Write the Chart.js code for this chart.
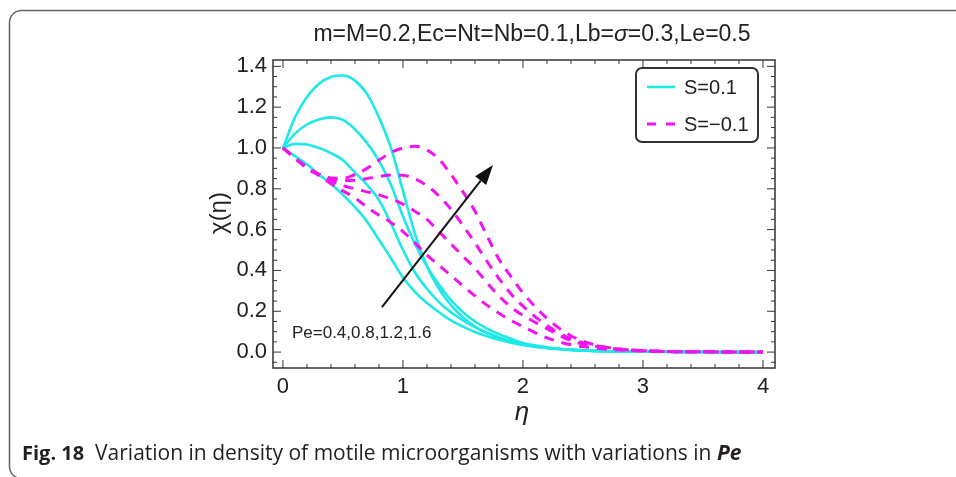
<!DOCTYPE html>
<html>
<head>
<meta charset="utf-8">
<script src="https://cdn.jsdelivr.net/npm/chart.js@4/dist/chart.umd.min.js"></script>
<style>
  html, body { margin: 0; padding: 0; background: #fff; }
  canvas { display: block; }
</style>
</head>
<body>
<canvas id="densityChart" width="956" height="477"></canvas>
<script>
// eta grid shared by every curve
const etaGrid = [0, 0.1, 0.2, 0.3, 0.4, 0.5, 0.6, 0.7, 0.8, 0.9, 1.0, 1.1, 1.2, 1.3, 1.4, 1.5, 1.6, 1.7, 1.8, 1.9, 2.0, 2.2, 2.4, 2.6, 2.8, 3.0, 3.3, 3.6, 4.0];

// S = 0.1 (solid), Pe = 0.4, 0.8, 1.2, 1.6
const posPe04 = [1.0, 0.96, 0.92, 0.87, 0.825, 0.77, 0.71, 0.64, 0.55, 0.46, 0.365, 0.295, 0.24, 0.195, 0.155, 0.125, 0.098, 0.077, 0.06, 0.046, 0.035, 0.02, 0.011, 0.006, 0.003, 0.002, 0.001, 0, 0];
const posPe08 = [1.0, 1.02, 1.017, 1.0, 0.975, 0.94, 0.88, 0.82, 0.745, 0.63, 0.5, 0.39, 0.31, 0.245, 0.195, 0.155, 0.122, 0.095, 0.073, 0.053, 0.038, 0.02, 0.011, 0.006, 0.003, 0.002, 0.001, 0, 0];
const posPe12 = [1.0, 1.07, 1.115, 1.14, 1.15, 1.138, 1.092, 1.025, 0.937, 0.82, 0.665, 0.53, 0.42, 0.33, 0.255, 0.195, 0.15, 0.115, 0.088, 0.065, 0.045, 0.024, 0.012, 0.006, 0.003, 0.002, 0.001, 0, 0];
const posPe16 = [1.0, 1.15, 1.25, 1.315, 1.348, 1.355, 1.33, 1.265, 1.15, 1.0, 0.79, 0.58, 0.42, 0.31, 0.23, 0.17, 0.125, 0.092, 0.068, 0.05, 0.036, 0.02, 0.01, 0.005, 0.003, 0.002, 0.001, 0, 0];

// S = -0.1 (dashed), Pe = 0.4, 0.8, 1.2, 1.6
const negPe04 = [1.0, 0.95, 0.9, 0.865, 0.825, 0.79, 0.755, 0.71, 0.67, 0.635, 0.59, 0.535, 0.475, 0.425, 0.375, 0.325, 0.275, 0.23, 0.19, 0.155, 0.125, 0.07, 0.036, 0.02, 0.01, 0.005, 0.002, 0.001, 0];
const negPe08 = [1.0, 0.95, 0.905, 0.87, 0.84, 0.815, 0.8, 0.785, 0.77, 0.75, 0.725, 0.69, 0.65, 0.59, 0.53, 0.47, 0.41, 0.34, 0.275, 0.22, 0.18, 0.115, 0.055, 0.028, 0.013, 0.006, 0.002, 0.001, 0];
const negPe12 = [1.0, 0.95, 0.905, 0.87, 0.848, 0.84, 0.842, 0.85, 0.86, 0.867, 0.866, 0.848, 0.815, 0.765, 0.7, 0.62, 0.535, 0.445, 0.36, 0.285, 0.225, 0.13, 0.065, 0.033, 0.015, 0.007, 0.002, 0.001, 0];
const negPe16 = [1.0, 0.95, 0.905, 0.872, 0.853, 0.852, 0.87, 0.9, 0.94, 0.978, 1.0, 1.008, 0.99, 0.945, 0.87, 0.785, 0.69, 0.57, 0.455, 0.37, 0.29, 0.165, 0.08, 0.035, 0.015, 0.007, 0.002, 0.001, 0];

const xTicks = [0, 1, 2, 3, 4];
const yTicks = [0, 0.2, 0.4, 0.6, 0.8, 1.0, 1.2, 1.4];

const legendLabels = ["S=0.1", "S=\u22120.1"];
const peLabel = "Pe=0.4,0.8,1.2,1.6";

const CYAN = "rgb(30,232,232)";
const MAGENTA = "rgb(240,20,240)";

function toPoints(arr) {
  return etaGrid.map((x, i) => ({ x: x, y: arr[i] }));
}

function solid(arr) {
  return { data: toPoints(arr), borderColor: CYAN, borderWidth: 2.6, pointRadius: 0, cubicInterpolationMode: "monotone", order: 2 };
}
function dashed(arr) {
  return { data: toPoints(arr), borderColor: MAGENTA, borderWidth: 3, borderDash: [10, 8], pointRadius: 0, cubicInterpolationMode: "monotone", order: 1 };
}

// frame, inward ticks, labels, legend, arrow and caption
const decorations = {
  id: "decorations",
  afterDraw(chart) {
    const ctx = chart.ctx;
    const a = chart.chartArea;
    const xs = chart.scales.x;
    const ys = chart.scales.y;
    ctx.save();

    // outer rounded border of the figure
    ctx.strokeStyle = "#666";
    ctx.lineWidth = 1.5;
    ctx.beginPath();
    ctx.roundRect(9.5, 10.5, 1000, 468, 12);
    ctx.stroke();

    // plot frame
    ctx.strokeStyle = "#333";
    ctx.lineWidth = 1.5;
    ctx.strokeRect(a.left, a.top, a.right - a.left, a.bottom - a.top);

    // ticks pointing inward
    ctx.lineWidth = 1;
    ctx.beginPath();
    for (let i = 0; i <= 20; i++) {
      const v = i * 0.2;
      const len = i % 5 === 0 ? 8 : 4;
      const px = xs.getPixelForValue(v);
      ctx.moveTo(px, a.bottom); ctx.lineTo(px, a.bottom - len);
      ctx.moveTo(px, a.top); ctx.lineTo(px, a.top + len);
    }
    for (let i = -1; i <= 28; i++) {
      const v = i * 0.05;
      const len = i % 4 === 0 ? 8 : 4;
      const py = ys.getPixelForValue(v);
      ctx.moveTo(a.left, py); ctx.lineTo(a.left + len, py);
      ctx.moveTo(a.right, py); ctx.lineTo(a.right - len, py);
    }
    ctx.stroke();

    // title with italic sigma
    ctx.fillStyle = "#222";
    ctx.textBaseline = "middle";
    ctx.textAlign = "left";
    const parts = [
      ["m=M=0.2,Ec=Nt=Nb=0.1,Lb=", '23px "Liberation Sans"'],
      ["\u03c3", 'italic 23px "Liberation Sans"'],
      ["=0.3,Le=0.5", '23px "Liberation Sans"']
    ];
    let total = 0;
    parts.forEach(p => { ctx.font = p[1]; total += ctx.measureText(p[0]).width; });
    let tx = 532 - total / 2;
    parts.forEach(p => { ctx.font = p[1]; ctx.fillText(p[0], tx, 35); tx += ctx.measureText(p[0]).width; });

    // axis titles
    ctx.textAlign = "center";
    ctx.font = '24px "Liberation Sans"';
    ctx.save();
    ctx.translate(219, 213);
    ctx.rotate(-Math.PI / 2);
    ctx.fillText("\u03c7(\u03b7)", 0, 0);
    ctx.restore();
    ctx.font = 'italic 26px "Liberation Sans"';
    ctx.fillText("\u03b7", 522, 413);

    // legend box
    ctx.strokeStyle = "#333";
    ctx.lineWidth = 2;
    ctx.beginPath();
    ctx.roundRect(636, 68, 122, 74, 6);
    ctx.stroke();
    ctx.lineWidth = 2.6;
    ctx.strokeStyle = CYAN;
    ctx.beginPath(); ctx.moveTo(647, 87); ctx.lineTo(675, 87); ctx.stroke();
    ctx.strokeStyle = MAGENTA;
    ctx.lineWidth = 3;
    ctx.setLineDash([9, 10]);
    ctx.beginPath(); ctx.moveTo(647, 124); ctx.lineTo(676, 124); ctx.stroke();
    ctx.setLineDash([]);
    ctx.font = '20px "Liberation Sans"';
    ctx.textAlign = "left";
    ctx.fillStyle = "#222";
    ctx.fillText(legendLabels[0], 684, 88);
    ctx.fillText(legendLabels[1], 684, 125);

    // arrow showing increasing Pe
    const x0 = xs.getPixelForValue(0.825), y0 = ys.getPixelForValue(0.22);
    const x1 = xs.getPixelForValue(1.75), y1 = ys.getPixelForValue(0.917);
    const ang = Math.atan2(y1 - y0, x1 - x0);
    const head = 20, half = 7;
    const bx = x1 - head * Math.cos(ang), by = y1 - head * Math.sin(ang);
    ctx.strokeStyle = "#111";
    ctx.fillStyle = "#111";
    ctx.lineWidth = 2;
    ctx.beginPath(); ctx.moveTo(x0, y0); ctx.lineTo(bx, by); ctx.stroke();
    ctx.beginPath();
    ctx.moveTo(x1, y1);
    ctx.lineTo(bx + half * Math.sin(ang), by - half * Math.cos(ang));
    ctx.lineTo(bx - half * Math.sin(ang), by + half * Math.cos(ang));
    ctx.closePath();
    ctx.fill();

    ctx.fillStyle = "#222";
    ctx.font = '17px "Liberation Sans"';
    ctx.fillText(peLabel, xs.getPixelForValue(0.075), ys.getPixelForValue(0.093));

    // caption
    ctx.fillStyle = "#231f20";
    ctx.textBaseline = "alphabetic";
    let cx = 22;
    const cap = [
      ["Fig. 18", 'bold 20px "Open Sans"'],
      ["  Variation in density of motile microorganisms with variations in ", '21px "Open Sans"'],
      ["Pe", 'italic bold 21px "Open Sans"']
    ];
    cap.forEach(c => { ctx.font = c[1]; ctx.fillText(c[0], cx, 460); cx += ctx.measureText(c[0]).width; });

    ctx.restore();
  }
};

new Chart("densityChart", {
  type: "line",
  data: {
    datasets: [
      solid(posPe04), solid(posPe08), solid(posPe12), solid(posPe16),
      dashed(negPe04), dashed(negPe08), dashed(negPe12), dashed(negPe16)
    ]
  },
  options: {
    responsive: false,
    animation: false,
    layout: { padding: { top: 60, right: 181, left: 0, bottom: 0 } },
    plugins: { legend: { display: false }, tooltip: { enabled: false } },
    scales: {
      x: {
        type: "linear",
        min: -0.083,
        max: 4.1,
        grid: { display: false, drawTicks: false },
        border: { display: false },
        afterBuildTicks: (scale) => { scale.ticks = xTicks.map(v => ({ value: v })); },
        afterFit: (scale) => { scale.height = 109; },
        ticks: { padding: 6, color: "#222", font: { family: "Liberation Sans", size: 22 }, maxRotation: 0 }
      },
      y: {
        type: "linear",
        min: -0.078,
        max: 1.431,
        grid: { display: false, drawTicks: false },
        border: { display: false },
        afterBuildTicks: (scale) => { scale.ticks = yTicks.map(v => ({ value: v })); },
        afterFit: (scale) => { scale.width = 273; },
        ticks: { padding: 6, color: "#222", font: { family: "Liberation Sans", size: 22 }, callback: (v) => Number(v).toFixed(1) }
      }
    }
  },
  plugins: [decorations]
});
</script>
</body>
</html>
